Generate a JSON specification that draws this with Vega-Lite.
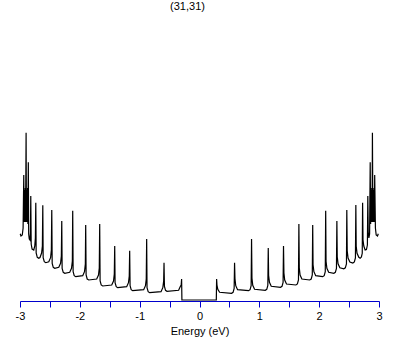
{
  "$schema": "https://vega.github.io/schema/vega-lite/v6.json",
  "autosize": {"type": "none"},
  "padding": {"left": 20, "top": 21, "right": 30, "bottom": 44},
  "width": 359,
  "height": 280,
  "background": "white",
  "config": {"view": {"stroke": null}},
  "title": {"text": "(31,31)", "font": "Liberation Sans", "fontSize": 11, "fontWeight": "normal", "color": "black", "anchor": "middle", "offset": 9, "dx": -12},
  "data": {"values": [
    {"E": -2.997, "DOS": 67.3}, {"E": -2.983, "DOS": 65}, {"E": -2.962, "DOS": 66}, {"E": -2.948, "DOS": 73},
    {"E": -2.937, "DOS": 126}, {"E": -2.932, "DOS": 79}, {"E": -2.923, "DOS": 111}, {"E": -2.918, "DOS": 79},
    {"E": -2.912, "DOS": 113}, {"E": -2.907, "DOS": 79}, {"E": -2.898, "DOS": 168.3}, {"E": -2.893, "DOS": 79},
    {"E": -2.887, "DOS": 111}, {"E": -2.882, "DOS": 79}, {"E": -2.873, "DOS": 113}, {"E": -2.868, "DOS": 77},
    {"E": -2.861, "DOS": 138.7}, {"E": -2.855, "DOS": 67}, {"E": -2.845, "DOS": 62}, {"E": -2.833, "DOS": 61},
    {"E": -2.825, "DOS": 69}, {"E": -2.820, "DOS": 105},
    {"E": -2.813, "DOS": 57}, {"E": -2.798, "DOS": 52}, {"E": -2.770, "DOS": 51}, {"E": -2.753, "DOS": 55}, {"E": -2.743, "DOS": 63}, {"E": -2.736, "DOS": 98.3},
    {"E": -2.730, "DOS": 48}, {"E": -2.711, "DOS": 43.7}, {"E": -2.686, "DOS": 42.7}, {"E": -2.666, "DOS": 43.5}, {"E": -2.639, "DOS": 48}, {"E": -2.626, "DOS": 55}, {"E": -2.619, "DOS": 95.7},
    {"E": -2.613, "DOS": 43.3}, {"E": -2.594, "DOS": 39.3}, {"E": -2.569, "DOS": 38.3}, {"E": -2.519, "DOS": 39.3}, {"E": -2.489, "DOS": 43.3}, {"E": -2.476, "DOS": 51}, {"E": -2.469, "DOS": 91},
    {"E": -2.462, "DOS": 37.7}, {"E": -2.444, "DOS": 33.7}, {"E": -2.419, "DOS": 32.7}, {"E": -2.352, "DOS": 33.7}, {"E": -2.322, "DOS": 37.7}, {"E": -2.309, "DOS": 45}, {"E": -2.302, "DOS": 80},
    {"E": -2.296, "DOS": 32.7}, {"E": -2.277, "DOS": 28.7}, {"E": -2.252, "DOS": 27.7}, {"E": -2.169, "DOS": 28.7}, {"E": -2.139, "DOS": 32.7}, {"E": -2.125, "DOS": 40}, {"E": -2.119, "DOS": 90.3},
    {"E": -2.112, "DOS": 29.3}, {"E": -2.094, "DOS": 25.3}, {"E": -2.068, "DOS": 24.3}, {"E": -1.952, "DOS": 25.3}, {"E": -1.922, "DOS": 29.3}, {"E": -1.908, "DOS": 37}, {"E": -1.902, "DOS": 76},
    {"E": -1.895, "DOS": 26}, {"E": -1.877, "DOS": 22}, {"E": -1.851, "DOS": 21}, {"E": -1.718, "DOS": 22}, {"E": -1.688, "DOS": 26}, {"E": -1.675, "DOS": 33}, {"E": -1.668, "DOS": 77},
    {"E": -1.661, "DOS": 20}, {"E": -1.643, "DOS": 16}, {"E": -1.618, "DOS": 15}, {"E": -1.467, "DOS": 16}, {"E": -1.437, "DOS": 20}, {"E": -1.424, "DOS": 27}, {"E": -1.417, "DOS": 55},
    {"E": -1.411, "DOS": 18.3}, {"E": -1.392, "DOS": 14.3}, {"E": -1.367, "DOS": 13.3}, {"E": -1.217, "DOS": 14.3}, {"E": -1.187, "DOS": 18.3}, {"E": -1.174, "DOS": 25}, {"E": -1.167, "DOS": 50.3},
    {"E": -1.160, "DOS": 15.3}, {"E": -1.142, "DOS": 11.3}, {"E": -1.117, "DOS": 10.3}, {"E": -0.933, "DOS": 11.3}, {"E": -0.903, "DOS": 15.3}, {"E": -0.890, "DOS": 22}, {"E": -0.883, "DOS": 62},
    {"E": -0.877, "DOS": 13.3}, {"E": -0.858, "DOS": 9.3}, {"E": -0.833, "DOS": 8.3}, {"E": -0.643, "DOS": 9.3}, {"E": -0.613, "DOS": 13.3}, {"E": -0.599, "DOS": 20}, {"E": -0.593, "DOS": 38.3},
    {"E": -0.586, "DOS": 14.7}, {"E": -0.568, "DOS": 10.7}, {"E": -0.543, "DOS": 9.7}, {"E": -0.349, "DOS": 10.7}, {"E": -0.319, "DOS": 14.7}, {"E": -0.306, "DOS": 16}, {"E": -0.299, "DOS": 22},
    {"E": -0.294, "DOS": 1}, {"E": 0.281, "DOS": 1},
    {"E": 0.286, "DOS": 22}, {"E": 0.292, "DOS": 16}, {"E": 0.306, "DOS": 11.7}, {"E": 0.336, "DOS": 8.7}, {"E": 0.536, "DOS": 7.7}, {"E": 0.561, "DOS": 8.7}, {"E": 0.579, "DOS": 12.7},
    {"E": 0.586, "DOS": 38.3}, {"E": 0.593, "DOS": 22.3}, {"E": 0.606, "DOS": 15.3}, {"E": 0.636, "DOS": 11.3}, {"E": 0.820, "DOS": 10.3}, {"E": 0.845, "DOS": 11.3}, {"E": 0.863, "DOS": 15.3},
    {"E": 0.870, "DOS": 62}, {"E": 0.877, "DOS": 22.7}, {"E": 0.890, "DOS": 15.7}, {"E": 0.920, "DOS": 11.7}, {"E": 1.099, "DOS": 10.7}, {"E": 1.124, "DOS": 11.7}, {"E": 1.142, "DOS": 15.7},
    {"E": 1.149, "DOS": 53}, {"E": 1.155, "DOS": 25.7}, {"E": 1.169, "DOS": 18.7}, {"E": 1.199, "DOS": 14.7}, {"E": 1.354, "DOS": 13.7}, {"E": 1.379, "DOS": 14.7}, {"E": 1.397, "DOS": 18.7},
    {"E": 1.404, "DOS": 55}, {"E": 1.411, "DOS": 28}, {"E": 1.424, "DOS": 21}, {"E": 1.454, "DOS": 17}, {"E": 1.611, "DOS": 16}, {"E": 1.636, "DOS": 17}, {"E": 1.654, "DOS": 21},
    {"E": 1.661, "DOS": 77}, {"E": 1.668, "DOS": 33}, {"E": 1.681, "DOS": 26}, {"E": 1.711, "DOS": 22}, {"E": 1.841, "DOS": 21}, {"E": 1.867, "DOS": 22}, {"E": 1.885, "DOS": 26},
    {"E": 1.892, "DOS": 76}, {"E": 1.898, "DOS": 36.3}, {"E": 1.912, "DOS": 29.3}, {"E": 1.942, "DOS": 25.3}, {"E": 2.058, "DOS": 24.3}, {"E": 2.084, "DOS": 25.3}, {"E": 2.102, "DOS": 29.3},
    {"E": 2.109, "DOS": 90.3}, {"E": 2.115, "DOS": 39.7}, {"E": 2.129, "DOS": 32.7}, {"E": 2.159, "DOS": 28.7}, {"E": 2.245, "DOS": 27.7}, {"E": 2.270, "DOS": 28.7}, {"E": 2.289, "DOS": 32.7},
    {"E": 2.296, "DOS": 80}, {"E": 2.302, "DOS": 44.2}, {"E": 2.316, "DOS": 37.2}, {"E": 2.346, "DOS": 33.2}, {"E": 2.412, "DOS": 32.2}, {"E": 2.437, "DOS": 33.2}, {"E": 2.456, "DOS": 37.2},
    {"E": 2.462, "DOS": 91}, {"E": 2.469, "DOS": 50}, {"E": 2.483, "DOS": 43}, {"E": 2.513, "DOS": 39}, {"E": 2.563, "DOS": 38}, {"E": 2.588, "DOS": 39}, {"E": 2.606, "DOS": 43},
    {"E": 2.613, "DOS": 96}, {"E": 2.619, "DOS": 54.7}, {"E": 2.633, "DOS": 47.7}, {"E": 2.663, "DOS": 43.7}, {"E": 2.685, "DOS": 42.7}, {"E": 2.706, "DOS": 44}, {"E": 2.720, "DOS": 47.7},
    {"E": 2.726, "DOS": 98.3}, {"E": 2.733, "DOS": 61}, {"E": 2.746, "DOS": 55}, {"E": 2.768, "DOS": 51}, {"E": 2.790, "DOS": 51.5}, {"E": 2.806, "DOS": 56},
    {"E": 2.813, "DOS": 105}, {"E": 2.820, "DOS": 69}, {"E": 2.831, "DOS": 63}, {"E": 2.843, "DOS": 67},
    {"E": 2.853, "DOS": 138.7}, {"E": 2.860, "DOS": 77}, {"E": 2.865, "DOS": 113}, {"E": 2.873, "DOS": 79}, {"E": 2.878, "DOS": 111}, {"E": 2.885, "DOS": 79},
    {"E": 2.890, "DOS": 168.3}, {"E": 2.898, "DOS": 79}, {"E": 2.903, "DOS": 113}, {"E": 2.910, "DOS": 79}, {"E": 2.915, "DOS": 111}, {"E": 2.923, "DOS": 79},
    {"E": 2.928, "DOS": 126}, {"E": 2.940, "DOS": 73}, {"E": 2.953, "DOS": 66}, {"E": 2.975, "DOS": 65}, {"E": 2.988, "DOS": 67.3}
  ]},
  "mark": {"type": "line", "color": "black", "strokeWidth": 1.2, "interpolate": "linear"},
  "encoding": {
    "x": {"field": "E", "type": "quantitative", "sort": null,
      "scale": {"domain": [-3, 3], "nice": false, "zero": false},
      "axis": {"title": "Energy (eV)", "values": [-3, -2.5, -2, -1.5, -1, -0.5, 0, 0.5, 1, 1.5, 2, 2.5, 3],
        "labelExpr": "datum.value % 1 == 0 ? (datum.value < 0 ? '-' + abs(datum.value) : '' + datum.value) : ''",
        "labelFlush": false, "labelOverlap": false, "grid": false,
        "domainColor": "#0000CC", "tickColor": "#0000CC", "tickSize": 6, "domainWidth": 1, "tickWidth": 1,
        "labelFont": "Liberation Sans", "labelFontSize": 11, "labelColor": "black", "labelPadding": 3,
        "titleFont": "Liberation Sans", "titleFontSize": 11, "titleFontWeight": "normal", "titleColor": "black", "titlePadding": 4}},
    "y": {"field": "DOS", "type": "quantitative", "scale": {"domain": [0, 280], "nice": false}, "axis": null}
  }
}
